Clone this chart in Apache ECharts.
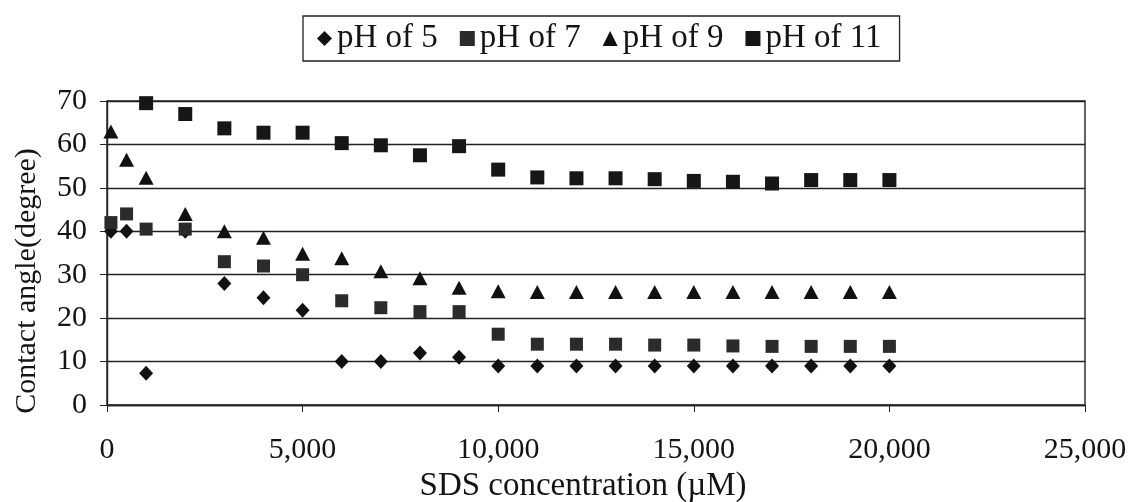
<!DOCTYPE html>
<html>
<head>
<meta charset="utf-8">
<script src="https://cdn.jsdelivr.net/npm/echarts@6/dist/echarts.min.js"></script>
<style>
  html, body { margin: 0; padding: 0; background: #fff; }
  #chart { width: 1142px; height: 502px; }
</style>
</head>
<body>
<div id="chart"></div>
<script>
// SDS concentration (µM) at which each contact angle was measured
const concentrations = [100, 500, 1000, 2000, 3000, 4000, 5000, 6000, 7000, 8000, 9000,
  10000, 11000, 12000, 13000, 14000, 15000, 16000, 17000, 18000, 19000, 20000];

// Contact angle (degree) per pH
const ph5 = [40, 40, 7.3, 40, 28, 24.7, 21.8, 10, 10, 12, 11,
  9, 9, 9, 9, 9, 9, 9, 9, 9, 9, 9];
const ph7 = [42, 44, 40.5, 40.5, 33, 32, 30, 24, 22.4, 21.5, 21.5,
  16.3, 14, 14, 14, 13.8, 13.8, 13.6, 13.5, 13.5, 13.5, 13.5];
const ph9 = [63, 56.5, 52.3, 44, 40, 38.5, 34.8, 33.8, 30.8, 29.2, 27,
  26.2, 26, 26, 26, 26, 26, 26, 26, 26, 26, 26];
const ph11 = [null, null, 69.5, 67, 63.7, 62.7, 62.7, 60.3, 59.8, 57.5, 59.6,
  54.2, 52.4, 52.2, 52.2, 52, 51.6, 51.4, 51, 51.8, 51.8, 51.8];

const seriesNames = ['pH of 5', 'pH of 7', 'pH of 9', 'pH of 11'];
const xTicks = [0, 5000, 10000, 15000, 20000, 25000];

const serif = '"Liberation Serif", "DejaVu Serif", serif';
const ink = '#141414';

function pairs(values) {
  return concentrations.map((c, i) => [c, values[i]]).filter(p => p[1] != null);
}

const chart = echarts.init(document.getElementById('chart'), null, { renderer: 'canvas' });

chart.setOption({
  animation: false,
  backgroundColor: '#ffffff',
  textStyle: { fontFamily: serif, color: ink },
  legend: {
    top: 16,
    left: 303,
    data: seriesNames,
    itemWidth: 15,
    itemHeight: 15,
    itemGap: 22,
    padding: [6, 18, 6, 14],
    borderColor: '#222',
    borderWidth: 1.3,
    textStyle: { fontFamily: serif, fontSize: 33, color: ink }
  },
  graphic: [{
    type: 'text',
    x: 27,
    y: 281,
    rotation: Math.PI / 2,
    style: {
      text: 'Contact angle(degree)',
      font: '30px ' + serif,
      fill: ink,
      align: 'center',
      verticalAlign: 'middle'
    }
  }],
  grid: {
    left: 107,
    right: 57,
    top: 101,
    bottom: 97,
    outerBoundsMode: 'none',
    containLabel: false,
    show: true,
    borderColor: '#222',
    borderWidth: 1.4,
    backgroundColor: 'transparent'
  },
  xAxis: {
    type: 'value',
    min: 0,
    max: 25000,
    interval: 5000,
    name: 'SDS concentration (\u00B5M)',
    nameLocation: 'middle',
    nameGap: 61,
    nameTextStyle: { fontFamily: serif, fontSize: 33, color: ink, padding: [0, 26, 0, 0] },
    axisLine: { show: true, onZero: false, lineStyle: { color: '#222', width: 1.4 } },
    axisTick: { show: true, length: 7, lineStyle: { color: '#222' } },
    axisLabel: {
      margin: 30,
      fontFamily: serif,
      fontSize: 30,
      color: ink,
      formatter: v => xTicks.includes(v) ? v.toLocaleString('en-US') : ''
    },
    splitLine: { show: false }
  },
  yAxis: {
    type: 'value',
    min: 0,
    max: 70,
    interval: 10,
    axisLine: { show: true, lineStyle: { color: '#222', width: 1.4 } },
    axisTick: { show: true, length: 7, lineStyle: { color: '#222' } },
    axisLabel: { margin: 20, fontFamily: serif, fontSize: 30, color: ink },
    splitLine: { show: true, lineStyle: { color: '#222', width: 1.4 } }
  },
  series: [
    {
      name: seriesNames[0], type: 'scatter', symbol: 'diamond', symbolSize: [14, 15],
      itemStyle: { color: '#111', opacity: 1 }, data: pairs(ph5)
    },
    {
      name: seriesNames[1], type: 'scatter', symbol: 'rect', symbolSize: 13,
      itemStyle: { color: '#2b2b2b', opacity: 1 }, data: pairs(ph7)
    },
    {
      name: seriesNames[2], type: 'scatter', symbol: 'triangle', symbolSize: [15, 14],
      itemStyle: { color: '#111', opacity: 1 }, data: pairs(ph9)
    },
    {
      name: seriesNames[3], type: 'scatter', symbol: 'rect', symbolSize: 14,
      itemStyle: { color: '#161616', opacity: 1 }, data: pairs(ph11)
    }
  ]
});
</script>
</body>
</html>
